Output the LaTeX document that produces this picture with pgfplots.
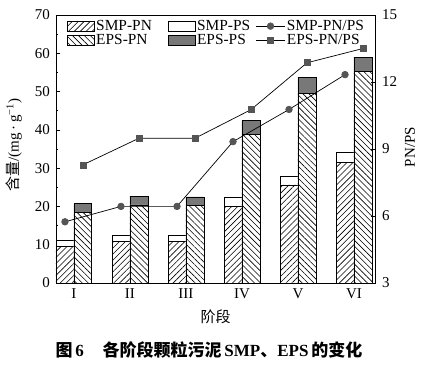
\documentclass[border=0pt]{standalone}
\usepackage{pgfplots}
\pgfplotsset{compat=1.18}
\usepackage{pgfplotstable}
\usetikzlibrary{patterns.meta}
\usepackage{fontspec}
\setmainfont{Liberation Serif}
\newfontfamily\cjk{Noto Sans CJK SC}
\newcommand\myfont{\fontsize{15}{17.5}\selectfont}
\newcommand\legfont{\fontsize{15.4}{17.5}\selectfont}
\definecolor{psgray}{RGB}{120,120,120}
\definecolor{mkgray}{RGB}{85,85,85}
\pgfplotstableread{
x smppn smpps epspn epsps smpr epsr
0 9.6  1.5 18.5 2.2 5.74 8.29
1 10.8 1.7 20.4 2.3 6.43 9.48
2 10.9 1.6 20.3 2.2 6.43 9.48
3 20.1 2.2 38.9 3.5 9.33 10.76
4 25.6 2.3 49.6 4.1 10.77 12.86
5 31.6 2.5 55.2 3.8 12.33 13.50
}\datatable
\pgfplotsset{
  barleg/.style={legend image code/.code={\draw[##1] (0pt,-5pt) rectangle (27pt,5pt);}},
  lineleg/.style={legend image code/.code={\draw[mark repeat=2,mark phase=2,##1] plot coordinates {(0pt,0pt) (14.5pt,0pt) (29pt,0pt)};}},
  smppn/.style={draw=black, line width=0.7pt, fill=white, postaction={pattern={Lines[angle=45,distance=4.2pt,line width=0.6pt]}}},
  epspn/.style={draw=black, line width=0.7pt, fill=white, postaction={pattern={Lines[angle=-45,distance=4.2pt,line width=0.6pt]}}},
  smpps/.style={draw=black, line width=0.7pt, fill=white},
  epsps/.style={draw=black, line width=0.7pt, fill=psgray},
  smpline/.style={black, line width=0.7pt, mark=*, mark size=3.3pt, mark options={fill=mkgray, draw=mkgray}},
  epsline/.style={black, line width=0.7pt, mark=square*, mark size=3pt, mark options={fill=mkgray, draw=mkgray}},
  every tick label/.append style={font=\myfont},
  every axis label/.append style={font=\myfont},
}
\begin{document}
\myfont
\begin{tikzpicture}[font=\myfont]
\begin{axis}[
  at={(0,0)}, anchor=south west,
  width=319pt, height=268pt, scale only axis,
  xmin=-0.32, xmax=5.375, ymin=0, ymax=70,
  xtick={0,...,5}, xticklabels={I,II,III,IV,V,VI},
  xtick pos=lower, ytick pos=left,
  ytick={0,10,...,70}, minor y tick num=1,
  tick align=inside, major tick length=4pt, minor tick length=2.5pt,
  axis line style={line width=0.8pt}, every tick/.style={black, line width=0.7pt},
  yticklabel style={xshift=-1pt},
  /pgf/number format/assume math mode=true,
  xlabel={\cjk 阶段},
  xlabel style={at={(axis description cs:0.5,-0.127)}, anchor=center, font=\myfont},
  ylabel={{\cjk 含量}/(mg\,·\,g\textsuperscript{−1})},
  ylabel style={at={(axis description cs:-0.132,0.515)}, anchor=center, font=\myfont},
  legend columns=3,
  legend style={at={(axis description cs:0.034,0.988)}, anchor=north west, draw=none, fill=none,
    inner xsep=0pt, inner ysep=0pt, row sep=-1pt, font=\legfont,
    /tikz/column 2/.style={column sep=14.5pt}, /tikz/column 4/.style={column sep=4pt},
    nodes={inner sep=1.5pt}},
  legend cell align=left,
]
\addplot[ybar, bar width=0.32, bar shift=-0.16, smpps, forget plot] table[x=x, y expr=\thisrow{smppn}+\thisrow{smpps}] {\datatable};
\addplot[ybar, bar width=0.32, bar shift=-0.16, smppn, forget plot] table[x=x, y=smppn] {\datatable};
\addplot[ybar, bar width=0.32, bar shift=0.16, epsps, forget plot] table[x=x, y expr=\thisrow{epspn}+\thisrow{epsps}] {\datatable};
\addplot[ybar, bar width=0.32, bar shift=0.16, epspn, forget plot] table[x=x, y=epspn] {\datatable};
\addlegendimage{barleg, smppn}
\addlegendentry{SMP-PN}
\addlegendimage{barleg, smpps}
\addlegendentry{SMP-PS}
\addlegendimage{lineleg, smpline}
\addlegendentry{SMP-PN/PS}
\addlegendimage{barleg, epspn}
\addlegendentry{EPS-PN}
\addlegendimage{barleg, epsps}
\addlegendentry{EPS-PS}
\addlegendimage{lineleg, epsline}
\addlegendentry{EPS-PN/PS}
\end{axis}
\begin{axis}[
  at={(0,0)}, anchor=south west,
  width=319pt, height=268pt, scale only axis,
  xmin=-0.32, xmax=5.375, ymin=3, ymax=15,
  hide x axis, axis y line*=right,
  ytick={3,6,9,12,15},
  tick align=inside, major tick length=4pt,
  axis line style={line width=0.8pt, -}, every tick/.style={black, line width=0.7pt},
  yticklabel style={xshift=2pt},
  /pgf/number format/assume math mode=true,
  ylabel={PN/PS},
  every axis y label/.style={at={(axis description cs:1.11,0.507)}, anchor=center, rotate=90, font=\myfont},
]
\addplot[smpline] table[x expr=\thisrow{x}-0.16, y=smpr] {\datatable};
\addplot[epsline] table[x expr=\thisrow{x}+0.16, y=epsr] {\datatable};
\end{axis}
\node[anchor=center, font=\fontsize{17}{20}\selectfont] at (153pt,-67pt)
  {{\cjk\bfseries 图}\,\textbf{6}\hspace{1.1em}{\cjk\bfseries 各阶段颗粒污泥}\,\textbf{SMP}{\cjk\bfseries 、}\textbf{EPS}\,{\cjk\bfseries 的变化}};
\pgfresetboundingbox
\useasboundingbox (-56pt,-84pt) rectangle (369pt,283pt);
\end{tikzpicture}
\end{document}
